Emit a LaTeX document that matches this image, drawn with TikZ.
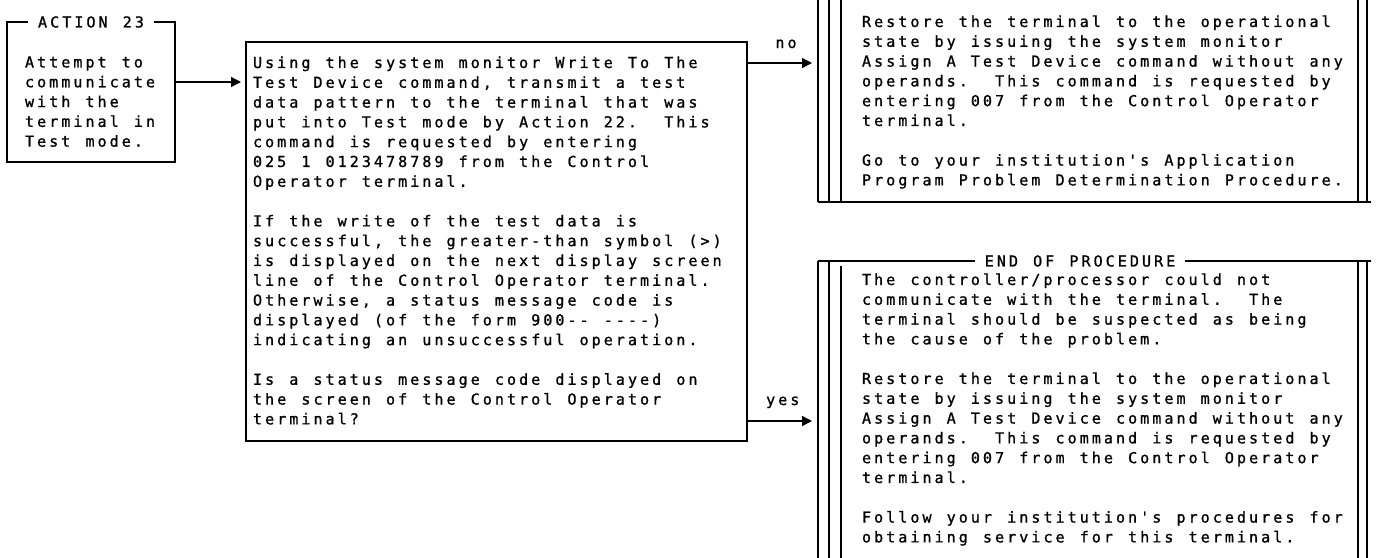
\documentclass[tikz,border=0pt]{standalone}
\usepackage{fontspec}
\usetikzlibrary{arrows.meta}
\newfontfamily\monof[LetterSpace=19.9,FakeBold=1,Ligatures=TeXOff]{DejaVu Sans Mono}
\newcommand\mfont{\fontsize{7.55}{9.9}\monof\frenchspacing
  \setbox0\hbox{00}\setbox2\hbox{0}%
  \fontdimen2\font=\dimexpr 2\wd0-3\wd2\relax
  \fontdimen3\font=0pt\relax\fontdimen4\font=0pt\relax}
\newcommand\dsp{\ \hskip\dimexpr\fontdimen2\font-1.5pt\relax}
\begin{document}
\begin{tikzpicture}[x=0.5pt,y=-0.5pt,
  ln/.style={line width=0.7pt, black},
  txt/.style={font=\mfont, align=left, inner sep=0pt, outer sep=0pt, anchor=north west},
  area/.style={inner sep=0pt, outer sep=0pt, minimum width=#1},
  arr/.style={ln, -{Triangle[length=5pt,width=5pt]}},
  lbl/.style={txt, anchor=center, fill=white, inner xsep=5pt, inner ysep=1.5pt}]
\useasboundingbox (0,0) rectangle (1376,557);
\fill[white] (0,0) rectangle (1376,557);
\clip (0,0) rectangle (1376,557);

% ACTION 23 box
\node[area=84pt, minimum height=70pt, draw, ln] (act) at (91,92) {};
\node[lbl] (actlbl) at (act.north) {ACTION 23};
\node[txt] (acttxt) at (25,53.6) {\strut Attempt to\\communicate\\with the\\terminal in\\Test mode.};

% middle box
\node[area=250.5pt, minimum height=199.5pt, draw, ln] (mid) at (496.5,241.5) {};
\node[txt] (midtxt) at (253,54.1) {\strut Using the system monitor Write To The\\
Test Device command, transmit a test\\
data pattern to the terminal that was\\
put into Test mode by Action 22.\dsp This\\
command is requested by entering\\
025 1 0123478789 from the Control\\
Operator terminal.\\[9.9pt]
If the write of the test data is\\
successful, the greater-than symbol (>)\\
is displayed on the next display screen\\
line of the Control Operator terminal.\\
Otherwise, a status message code is\\
displayed (of the form 900-- ----)\\
indicating an unsuccessful operation.\\[9.9pt]
Is a status message code displayed on\\
the screen of the Control Operator\\
terminal?};

% top right box
\node[area=274.5pt, minimum height=106pt] (tr) at (1092.5,96) {};
\draw[ln] (818,-5) -- (818,202) (829,-5) -- (829,202) (841,-5) -- (841,202)
          (1358,-5) -- (1358,202) (1367,-5) -- (1367,202) (818,202) -- (1371,202);
\node[txt] (trtxt) at (862,13.1) {\strut Restore the terminal to the operational\\
state by issuing the system monitor\\
Assign A Test Device command without any\\
operands.\dsp This command is requested by\\
entering 007 from the Control Operator\\
terminal.\\[9.9pt]
Go to your institution's Application\\
Program Problem Determination Procedure.};

% bottom right box
\node[area=274.5pt, minimum height=154.5pt] (br) at (1092.5,415.5) {};
\draw[ln] (818,261) -- (1371,261)
          (818,261) -- (818,565) (829,261) -- (829,565) (841,266) -- (841,565)
          (1358,261) -- (1358,565) (1367,261) -- (1367,565);
\node[lbl] (brlbl) at (1080,261) {END OF PROCEDURE};
\node[txt] (brtxt) at (862,271.1) {\strut The controller/processor could not\\
communicate with the terminal.\dsp The\\
terminal should be suspected as being\\
the cause of the problem.\\[9.9pt]
Restore the terminal to the operational\\
state by issuing the system monitor\\
Assign A Test Device command without any\\
operands.\dsp This command is requested by\\
entering 007 from the Control Operator\\
terminal.\\[9.9pt]
Follow your institution's procedures for\\
obtaining service for this terminal.};

% connectors
\coordinate (yact) at (0,82);
\path (mid.west |- yact) ++(-2.5pt,0) coordinate (actend);
\draw[arr] (act.east |- yact) -- (actend);

\coordinate (yno) at (0,63);
\path (tr.west |- yno) ++(-3pt,0) coordinate (noend);
\draw[arr] (mid.east |- yno) -- node[txt, anchor=base, pos=.6, yshift=7.5pt] (nolbl) {no} (noend);

\coordinate (yyes) at (0,421);
\path (br.west |- yyes) ++(-3pt,0) coordinate (yesend);
\draw[arr] (mid.east |- yyes) -- node[txt, anchor=base, pos=.55, yshift=8pt] (yeslbl) {yes} (yesend);
\end{tikzpicture}
\end{document}
